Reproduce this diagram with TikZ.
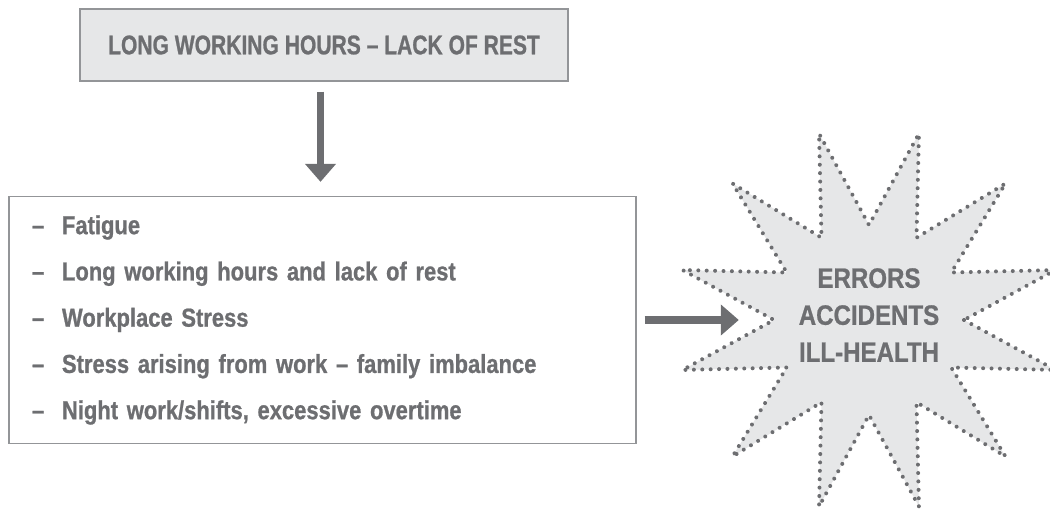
\documentclass[tikz,border=0pt]{standalone}
\usepackage{fontspec}
\usetikzlibrary{arrows.meta,calc,decorations.markings}
\newfontfamily\headfont{Liberation Sans}[FakeStretch=0.78, BoldFeatures={FakeBold=0.8}]
\newfontfamily\bodyfont{Liberation Sans}[FakeStretch=0.845, BoldFeatures={FakeBold=0.8}]
\newfontfamily\burstfont{Liberation Sans}[FakeStretch=0.86, BoldFeatures={FakeBold=0.8}]
\definecolor{ink}{HTML}{6D6E71}
\definecolor{paper}{HTML}{E6E7E8}
\definecolor{rule}{HTML}{939598}
\begin{document}
\begin{tikzpicture}[x=1pt,y=-1pt,
  headbox/.style={draw=rule, line width=1.5pt, fill=paper,
    minimum width=488pt, minimum height=72pt, inner sep=0pt, text=ink,
    font=\headfont\bfseries\fontsize{27}{30}\selectfont},
  listbox/.style={draw=rule, line width=1.3pt, fill=white,
    minimum width=627pt, minimum height=247pt, text width=581pt,
    inner xsep=23pt, inner ysep=0pt, align=left, text=ink,
    font=\bodyfont\bfseries\fontsize{26}{46.25}\selectfont},
  flow/.style={draw=ink, line width=7.5pt, -{Triangle[width=30pt,length=18pt]}},
  burst/.style={fill=paper,
    postaction={decorate, decoration={markings,
      mark=between positions 0 and 1 step 8.4pt with {\fill[ink] (0,0) circle (2pt);}}}},
  burstlabel/.style={circle, minimum size=190pt, inner sep=0pt, align=center,
    text=ink, font=\burstfont\bfseries\fontsize{28}{37}\selectfont}
]
\useasboundingbox (0,0) rectangle (1050,510);

% cause box and the list of factors
\node[headbox] (cause) at (324,45) {LONG WORKING HOURS – LACK OF REST};
\node[listbox] (factors) at (322.5,320) {%
  \makebox[30pt][l]{–}Fatigue\\
  \makebox[30pt][l]{–}Long working hours and lack of rest\\
  \makebox[30pt][l]{–}Workplace Stress\\
  \makebox[30pt][l]{–}Stress arising from work – family imbalance\\
  \makebox[30pt][l]{–}Night work/shifts, excessive overtime};

% twelve-pointed burst with the outcomes
\coordinate (hub) at (869,320);
\path[burst] ($(hub)+(0:95)$)
  \foreach \k in {0,...,10} { -- ($(hub)+(15+30*\k:193)$) -- ($(hub)+(30+30*\k:95)$) }
  -- ($(hub)+(345:193)$) -- cycle;
\node[burstlabel] (outcome) at ([yshift=5pt]hub) {ERRORS\\ACCIDENTS\\ILL-HEALTH};

% connectors
\draw[flow, shorten <=10pt, shorten >=14pt]
  ([xshift=-3.5pt]cause.south) -- ([xshift=-3.5pt]cause.south |- factors.north);
\draw[flow, shorten <=8pt, shorten >=35pt] (factors.east) -- (factors.east -| outcome.west);
\end{tikzpicture}
\end{document}
